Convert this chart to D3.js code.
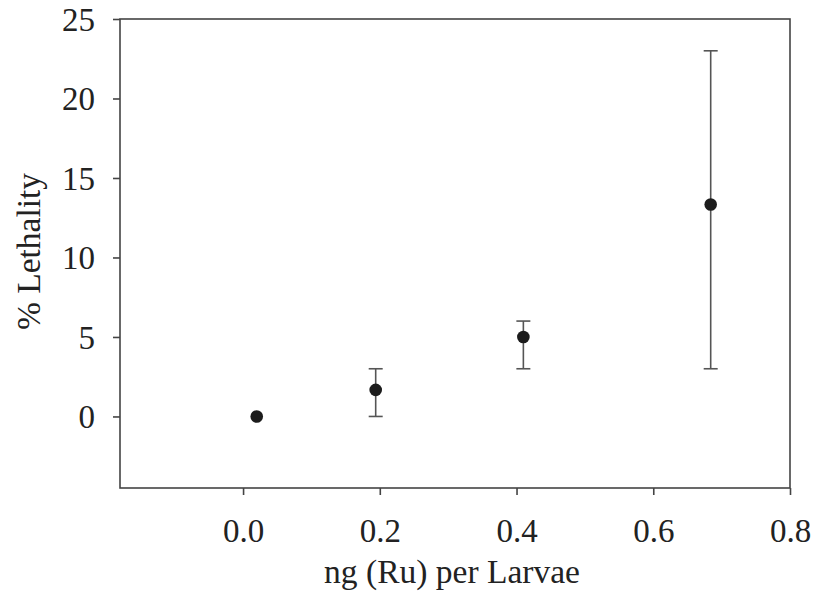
<!DOCTYPE html>
<html><head><meta charset="utf-8">
<script src="https://cdn.jsdelivr.net/npm/d3@7"></script>
<style>body{margin:0;background:#fff}svg{display:block}</style>
</head><body>
<svg id="c" width="815" height="608"></svg>
<script>
const xs = [0.02, 0.194, 0.41, 0.684];
const ys = [0, 1.67, 5, 13.33];
const yLo = [0, 0, 3, 3];
const yHi = [0, 3, 6, 23];
const xTicks = [0.0, 0.2, 0.4, 0.6, 0.8];
const yTicks = [0, 5, 10, 15, 20, 25];
const xDomain = [-0.18, 0.8];
const yDomain = [-4.5, 25];

const L = 120, R = 790, T = 19, B = 488;
const svg = d3.select("#c");
const x = d3.scaleLinear().domain(xDomain).range([L, R]);
const y = d3.scaleLinear().domain(yDomain).range([B, T]);
const font = "'Liberation Serif','Times New Roman',serif";
const axisCol = "#444";

// frame
svg.append("rect").attr("x", L).attr("y", T).attr("width", R - L).attr("height", B - T)
  .attr("fill", "none").attr("stroke", axisCol).attr("stroke-width", 1.6);

const xa = svg.append("g").attr("transform", `translate(0,${B})`)
  .call(d3.axisBottom(x).tickValues(xTicks).tickFormat(d3.format(".1f")).tickSizeOuter(0).tickSize(7).tickPadding(24));
const ya = svg.append("g").attr("transform", `translate(${L},0)`)
  .call(d3.axisLeft(y).tickValues(yTicks).tickSizeOuter(0).tickSize(7).tickPadding(18));
[xa, ya].forEach(a => {
  a.select(".domain").remove();
  a.selectAll("line").attr("stroke", axisCol).attr("stroke-width", 1.6);
  a.selectAll("text").attr("font-family", font).attr("font-size", 33).attr("fill", "#222");
});
ya.selectAll("text").attr("dy", "0.34em");

// error bars
const cap = 7;
const idx = d3.range(xs.length).filter(i => yHi[i] !== yLo[i]);
const eb = svg.append("g").attr("stroke", "#555").attr("stroke-width", 1.6);
eb.selectAll(".v").data(idx).join("line")
  .attr("x1", i => x(xs[i])).attr("x2", i => x(xs[i]))
  .attr("y1", i => y(yLo[i])).attr("y2", i => y(yHi[i]));
eb.selectAll(".t").data(idx).join("line")
  .attr("x1", i => x(xs[i]) - cap).attr("x2", i => x(xs[i]) + cap)
  .attr("y1", i => y(yHi[i])).attr("y2", i => y(yHi[i]));
eb.selectAll(".b").data(idx).join("line")
  .attr("x1", i => x(xs[i]) - cap).attr("x2", i => x(xs[i]) + cap)
  .attr("y1", i => y(yLo[i])).attr("y2", i => y(yLo[i]));

svg.append("g").selectAll("circle").data(xs).join("circle")
  .attr("cx", (d) => x(d)).attr("cy", (d, i) => y(ys[i])).attr("r", 6.3).attr("fill", "#1c1c1c");

svg.append("text").attr("x", (L + R) / 2 - 3).attr("y", 583).attr("text-anchor", "middle")
  .attr("font-family", font).attr("font-size", 33.5).attr("fill", "#222").text("ng (Ru) per Larvae");
svg.append("text").attr("transform", `translate(40,${(T + B) / 2 - 2}) rotate(-90)`).attr("text-anchor", "middle")
  .attr("font-family", font).attr("font-size", 33.5).attr("fill", "#222").text("% Lethality");
</script>
</body></html>
